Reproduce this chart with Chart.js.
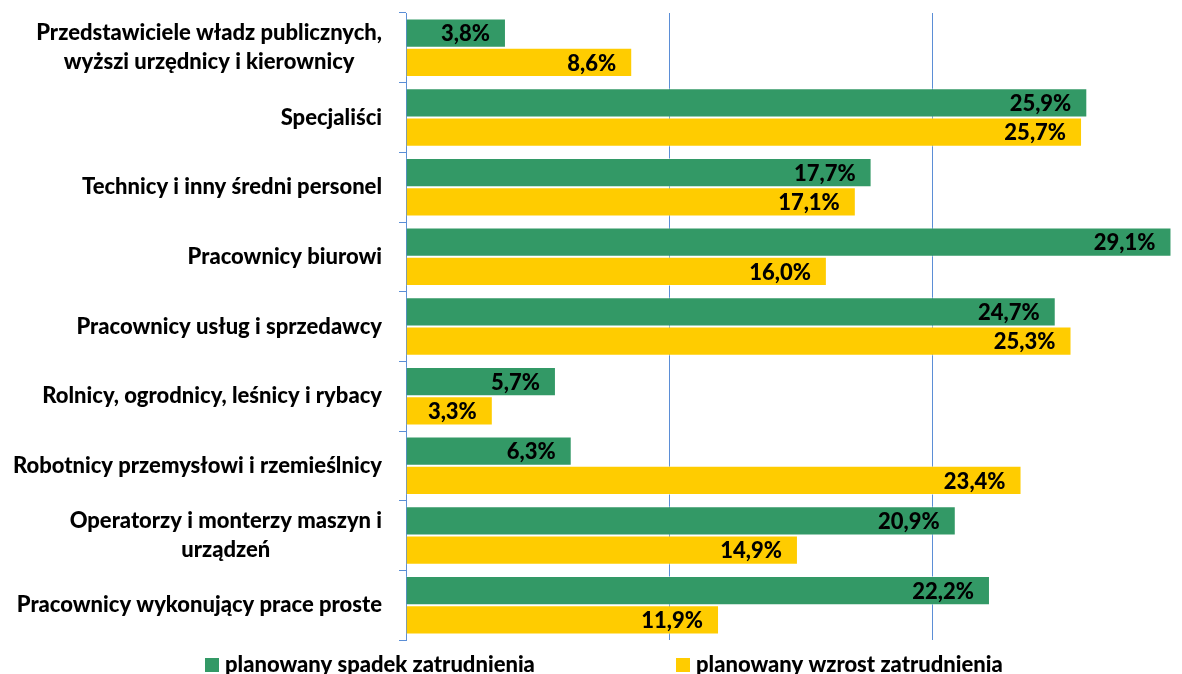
<!DOCTYPE html>
<html lang="pl">
<head>
<meta charset="utf-8">
<title>Planowane zmiany zatrudnienia</title>
<script src="https://cdn.jsdelivr.net/npm/chart.js@4/dist/chart.umd.min.js"></script>
<style>
  html, body { margin: 0; padding: 0; background: #fff; }
  #chart { display: block; }
</style>
</head>
<body>
<canvas id="chart" width="1182" height="674"></canvas>
<script>
// ----------------- Data -----------------
const categories = [
  ["Przedstawiciele władz publicznych,", "wyższi urzędnicy i kierownicy"],
  "Specjaliści",
  "Technicy i inny średni personel",
  "Pracownicy biurowi",
  "Pracownicy usług i sprzedawcy",
  "Rolnicy, ogrodnicy, leśnicy i rybacy",
  "Robotnicy przemysłowi i rzemieślnicy",
  ["Operatorzy i monterzy maszyn i", "urządzeń"],
  "Pracownicy wykonujący prace proste"
];
const spadek = [3.8, 25.9, 17.7, 29.1, 24.7, 5.7, 6.3, 20.9, 22.2];
const wzrost = [8.6, 25.7, 17.1, 16.0, 25.3, 3.3, 23.4, 14.9, 11.9];
const seriesNames = ["planowany spadek zatrudnienia", "planowany wzrost zatrudnienia"];

// ----------------- Style -----------------
const GREEN = "#339966";
const YELLOW = "#FFCC00";
const AXIS_BLUE = "#5b8ed6";
const FONT = "900 22px Lato, 'Open Sans', sans-serif";
const AXIS_W = 406;

function fmt(v) {
  return v.toFixed(1).replace(".", ",") + "%";
}

// value labels at the end of every bar
const barLabels = {
  id: "barLabels",
  afterDatasetsDraw(chart) {
    const ctx = chart.ctx;
    ctx.save();
    ctx.font = FONT;
    ctx.fillStyle = "#000";
    ctx.textAlign = "right";
    ctx.textBaseline = "middle";
    chart.data.datasets.forEach((ds, di) => {
      chart.getDatasetMeta(di).data.forEach((bar, i) => {
        ctx.fillText(fmt(ds.data[i]), bar.x - 16, bar.y + 1);
      });
    });
    ctx.restore();
  }
};

// category names, lines centred inside a right-aligned block
const categoryLabels = {
  id: "categoryLabels",
  afterDraw(chart) {
    const ctx = chart.ctx;
    const y = chart.scales.y;
    ctx.save();
    ctx.font = FONT;
    ctx.fillStyle = "#000";
    ctx.textAlign = "center";
    ctx.textBaseline = "middle";
    const right = AXIS_W - 24;
    const lineH = 29;
    categories.forEach((c, i) => {
      const lines = Array.isArray(c) ? c : [c];
      const w = Math.max(...lines.map(l => ctx.measureText(l).width));
      const cx = right - w / 2;
      const cy = y.getPixelForTick(i);
      const y0 = cy - (lines.length - 1) * lineH / 2;
      lines.forEach((l, k) => ctx.fillText(l, cx, y0 + k * lineH));
    });
    ctx.restore();
  }
};

// legend row along the bottom edge
const bottomLegend = {
  id: "bottomLegend",
  afterDraw(chart) {
    const ctx = chart.ctx;
    const xs = [205, 676];
    const ly = 665;
    ctx.save();
    ctx.font = FONT;
    ctx.fillStyle = "#000";
    ctx.textAlign = "left";
    ctx.textBaseline = "middle";
    chart.data.datasets.forEach((ds, i) => {
      ctx.fillStyle = ds.backgroundColor;
      ctx.fillRect(xs[i], ly - 7, 14, 14);
      ctx.fillStyle = "#000";
      ctx.fillText(ds.label, xs[i] + 20, ly);
    });
    ctx.restore();
  }
};

// ----------------- Chart -----------------
new Chart(document.getElementById("chart"), {
  type: "bar",
  data: {
    labels: categories,
    datasets: [
      { label: seriesNames[0], data: spadek, backgroundColor: GREEN, borderColor: "rgba(255,255,255,0.5)", borderWidth: 1 },
      { label: seriesNames[1], data: wzrost, backgroundColor: YELLOW, borderColor: "rgba(255,255,255,0.5)", borderWidth: 1 }
    ]
  },
  options: {
    indexAxis: "y",
    responsive: false,
    animation: false,
    layout: { padding: { top: 13, bottom: 34, left: 0, right: 0 } },
    datasets: { bar: { categoryPercentage: 0.84, barPercentage: 1 } },
    plugins: {
      legend: { display: false },
      tooltip: { enabled: false }
    },
    scales: {
      x: {
        min: 0,
        max: 29.5,
        ticks: { display: false, stepSize: 10 },
        afterBuildTicks: s => { s.ticks = s.ticks.filter(t => t.value % 10 === 0); },
        grid: { color: AXIS_BLUE, drawTicks: false, lineWidth: 1 },
        border: { display: false }
      },
      y: {
        ticks: { display: false },
        grid: { drawOnChartArea: false, drawTicks: true, tickLength: 7, color: AXIS_BLUE, offset: true },
        border: { display: true, color: AXIS_BLUE },
        afterFit: s => { s.width = AXIS_W; }
      }
    }
  },
  plugins: [barLabels, categoryLabels, bottomLegend]
});
</script>
</body>
</html>
